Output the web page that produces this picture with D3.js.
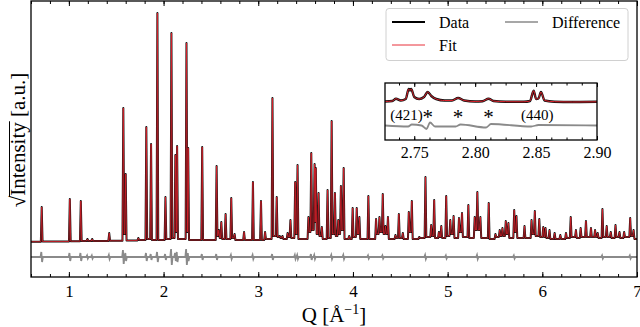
<!DOCTYPE html>
<html>
<head>
<meta charset="utf-8">
<script src="https://cdn.jsdelivr.net/npm/d3@7"></script>
<style>
  body { margin: 0; background: #fff; }
  text { font-family: "Liberation Serif", "DejaVu Serif", serif; }
</style>
</head>
<body>
<div id="chart"></div>
<script>
// Peak positions (Q, 1/A) and heights (sqrt intensity, arb. units)
const peakQ = [
  0.713, 1.010, 1.126, 1.196, 1.246, 1.426, 1.575, 1.600, 1.733, 1.818,
  1.868, 1.935, 2.020, 2.083, 2.125, 2.143, 2.242, 2.260, 2.408, 2.560,
  2.584, 2.610, 2.655, 2.715, 2.750, 2.850, 2.944, 3.029, 3.072, 3.150,
  3.195, 3.227, 3.256, 3.310, 3.340, 3.390, 3.415, 3.530, 3.560, 3.595,
  3.608, 3.637, 3.672, 3.732, 3.775, 3.810, 3.845, 3.873, 3.902, 3.960,
  3.997, 4.040, 4.068, 4.163, 4.244, 4.280, 4.315, 4.343, 4.370, 4.449,
  4.485, 4.527, 4.590, 4.622, 4.700, 4.766, 4.826, 4.858, 4.908, 4.933,
  4.985, 5.028, 5.063, 5.120, 5.152, 5.219, 5.286, 5.314, 5.346, 5.434,
  5.505, 5.550, 5.579, 5.614, 5.642, 5.703, 5.727, 5.812, 5.886, 5.921,
  5.968, 6.010, 6.034, 6.076, 6.130, 6.190, 6.250, 6.300, 6.355, 6.405,
  6.461, 6.514, 6.557, 6.585, 6.635, 6.680, 6.723, 6.773, 6.815, 6.864,
  6.928, 6.964
];
const peakI = [
  35, 43, 41, 3, 3, 9, 134, 68, 4, 115,
  98, 229, 45, 209, 87, 96, 199, 94, 95, 76,
  12, 20, 28, 44, 8, 10, 60, 41, 10, 144,
  45, 6, 6, 9, 22, 60, 77, 25, 89, 78,
  74, 49, 15, 52, 121, 49, 22, 56, 74, 6,
  34, 34, 25, 46, 23, 25, 48, 16, 25, 7,
  28, 9, 30, 41, 5, 65, 17, 42, 10, 16,
  46, 22, 26, 24, 29, 37, 25, 50, 25, 39,
  8, 12, 14, 21, 19, 32, 26, 16, 22, 31,
  23, 15, 14, 12, 9, 7, 9, 25, 12, 14,
  21, 14, 12, 9, 33, 16, 10, 17, 10, 10,
  24, 12
];
// level of the curve between consecutive peaks (first = start of pattern)
const valleyI = [0.3,
  0.5, 0.8, 1, 1, 1, 1.2, 8, 1.5, 2, 3,
  2, 2, 3, 4, 10, 3, 10, 2, 2, 6,
  4, 3, 3, 4, 2, 2, 2, 2, 3, 6,
  5, 4, 3, 5, 4, 8, 3, 10, 12, 20,
  8, 6, 3, 4, 8, 6, 8, 12, 3, 3,
  5, 8, 3, 3, 8, 10, 8, 8, 3, 4,
  4, 3, 10, 3, 4, 5, 6, 4, 5, 4,
  6, 8, 4, 10, 5, 4, 12, 12, 4, 3,
  5, 6, 6, 8, 4, 10, 4, 4, 8, 6,
  5, 5, 4, 3, 3, 3, 4, 5, 4, 5,
  5, 5, 5, 4, 5, 5, 4, 5, 4, 5,
  6, 3
];
// residual (obs - calc) swings at the strongest reflections
const diffQ = [0.713, 1.010, 1.126, 1.196, 1.246, 1.426, 1.575, 1.600, 1.818, 1.868,
  1.935, 2.020, 2.083, 2.125, 2.143, 2.242, 2.260, 2.408, 2.560, 2.715,
  2.944, 3.150, 3.390, 3.415, 3.560, 3.595, 3.775, 3.902, 4.163, 4.315,
  4.766, 4.985, 5.314, 5.703, 6.635, 6.928];
const diffA = [5, 4, 4, 1.5, 1.5, 2, 7, 4, 4, 3,
  5, 3, 8, 4, 5, 8, 4, 3, 3, 2,
  2, 3, 2, 2, 3, 2, 2, 2, 1.5, 1.5,
  2, 1.5, 2, 1.5, 1.5, 1.5];
const diffOffset = -15;

// inset: 2.726 - 2.90 1/A profile points
const insetQ = [2.726, 2.732, 2.735, 2.739, 2.743, 2.7455, 2.7465, 2.7475, 2.750, 2.754,
  2.758, 2.761, 2.764, 2.768, 2.775, 2.781, 2.786, 2.791, 2.800, 2.806,
  2.811, 2.815, 2.825, 2.840, 2.845, 2.848, 2.850, 2.852, 2.854, 2.857,
  2.865, 2.880, 2.900];
const insetI = [0.5, 1, 3.3, 1.5, 3, 13, 11.5, 13, 5, 3,
  5, 10, 6, 3, 1.5, 1.5, 4, 1.5, 0.5, 0.8,
  3.3, 1, 0.3, 0.2, 1, 11.3, 3, 3.5, 10, 1.5,
  0.3, 0, 0.2];
const insetDiffQ = [2.726, 2.745, 2.748, 2.756, 2.760, 2.763, 2.767, 2.784, 2.788, 2.809, 2.813, 2.846, 2.852, 2.900];
const insetDiffI = [0, -1, 1, 0, -3.5, 3, -1, -1, 1, -2, 1.5, -1, 0.5, 0];
const insetDiffOffset = -23.5;
const starQ = [2.761, 2.786, 2.811];

const xTicks = [1, 2, 3, 4, 5, 6, 7];
const insetTicks = [2.75, 2.80, 2.85, 2.90];

const W = 640, H = 327;
const plot = {left: 31, right: 637, top: 1, bottom: 277};
const ins = {left: 385, right: 597, top: 83, bottom: 140};

const svg = d3.select("#chart").append("svg")
  .attr("width", W).attr("height", H);

const x = d3.scaleLinear().domain([0.6, 7.0]).range([plot.left, plot.right]);
const y = d3.scaleLinear().domain([-35, 241]).range([plot.bottom, plot.top]);

// build profile vertices: foot, top, foot for every reflection
const w = 0.009;
function profile() {
  const pts = [[0.6, valleyI[0]]];
  peakQ.forEach((q, k) => {
    pts.push([q - w, valleyI[k]], [q, peakI[k]], [q + w, valleyI[k + 1]]);
  });
  pts.push([7.0, valleyI[peakQ.length]]);
  return pts;
}
function diffPts() {
  const pts = [[0.6, 0]];
  diffQ.forEach((q, k) => {
    pts.push([q - 0.012, 0], [q - 0.004, diffA[k]], [q + 0.004, -diffA[k]], [q + 0.012, 0]);
  });
  pts.push([7.0, 0]);
  return pts;
}

svg.append("defs").append("clipPath").attr("id", "clipMain")
  .append("rect").attr("x", plot.left).attr("y", plot.top)
  .attr("width", plot.right - plot.left).attr("height", plot.bottom - plot.top);

const line = d3.line().x(d => x(d[0])).y(d => y(d[1]));
const lineDiff = d3.line().x(d => x(d[0])).y(d => y(d[1] + diffOffset));

const main = svg.append("g").attr("clip-path", "url(#clipMain)");
const prof = profile();
main.append("path").attr("d", lineDiff(diffPts()))
  .attr("fill", "none").attr("stroke", "#8a8a8a").attr("stroke-width", 1.8);
main.append("path").attr("d", line(prof))
  .attr("fill", "none").attr("stroke", "#111").attr("stroke-width", 2)
  .attr("stroke-linejoin", "round");
main.append("path").attr("d", line(prof))
  .attr("fill", "none").attr("stroke", "#e0202a").attr("stroke-width", 0.8)
  .attr("stroke-linejoin", "round");

// axes: inward ticks on bottom and top
const bottomAxis = svg.append("g").attr("transform", `translate(0,${plot.bottom})`)
  .call(d3.axisBottom(x).tickValues(xTicks).tickSize(-5).tickPadding(8).tickFormat(d3.format("d")));
bottomAxis.selectAll("text").attr("font-size", 17).attr("fill", "#000")
  .style("font-family", '"Liberation Serif", serif');
svg.append("g").attr("transform", `translate(0,${plot.bottom})`)
  .call(d3.axisBottom(x).tickValues(d3.range(0.6, 7.01, 0.2)).tickSize(-3).tickFormat(""));
svg.append("g").attr("transform", `translate(0,${plot.top})`)
  .call(d3.axisTop(x).tickValues(xTicks).tickSize(-5).tickFormat(""));
svg.append("g").attr("transform", `translate(0,${plot.top})`)
  .call(d3.axisTop(x).tickValues(d3.range(0.6, 7.01, 0.2)).tickSize(-3).tickFormat(""));
svg.selectAll(".domain").remove();
svg.selectAll(".tick line").attr("stroke", "#000").attr("stroke-width", 1);

svg.append("rect").attr("x", plot.left).attr("y", plot.top)
  .attr("width", plot.right - plot.left).attr("height", plot.bottom - plot.top)
  .attr("fill", "none").attr("stroke", "#000").attr("stroke-width", 1.3);

// axis labels
const xl = svg.append("text").attr("x", (plot.left + plot.right) / 2).attr("y", 322)
  .attr("text-anchor", "middle").attr("font-size", 21);
xl.append("tspan").text("Q [Å");
xl.append("tspan").text("−1").attr("font-size", 14).attr("dy", -8);
xl.append("tspan").text("]").attr("dy", 8);

const yg = svg.append("g").attr("transform", "translate(25,140) rotate(-90)");
const yl = yg.append("text").attr("x", 0).attr("y", 0).attr("text-anchor", "middle")
  .attr("font-size", 21);
yl.append("tspan").text("√");
yl.append("tspan").text("Intensity");
yl.append("tspan").text(" [a.u.]");
const node = yl.node();
const s1 = node.getEndPositionOfChar(9).x;
const r0 = node.getEndPositionOfChar(0).x;
yg.append("line").attr("x1", r0 - 1).attr("x2", s1 + 1).attr("y1", -15.5).attr("y2", -15.5)
  .attr("stroke", "#000").attr("stroke-width", 1);

// inset
const xi = d3.scaleLinear().domain([2.726, 2.90]).range([ins.left, ins.right]);
const yi = d3.scaleLinear().domain([-38, 19]).range([ins.bottom, ins.top]);
svg.append("clipPath").attr("id", "clipInset")
  .append("rect").attr("x", ins.left).attr("y", ins.top)
  .attr("width", ins.right - ins.left).attr("height", ins.bottom - ins.top);
svg.append("rect").attr("x", ins.left).attr("y", ins.top)
  .attr("width", ins.right - ins.left).attr("height", ins.bottom - ins.top).attr("fill", "#fff");
const ig = svg.append("g").attr("clip-path", "url(#clipInset)");
const iPts = insetQ.map((q, k) => [q, insetI[k]]);
const iDiff = insetDiffQ.map((q, k) => [q, insetDiffI[k] + insetDiffOffset]);
const iline = d3.line().x(d => xi(d[0])).y(d => yi(d[1])).curve(d3.curveMonotoneX);
ig.append("path").attr("d", iline(iDiff)).attr("fill", "none")
  .attr("stroke", "#8a8a8a").attr("stroke-width", 1.8);
ig.append("path").attr("d", iline(iPts)).attr("fill", "none")
  .attr("stroke", "#111").attr("stroke-width", 2.4);
ig.append("path").attr("d", iline(iPts)).attr("fill", "none")
  .attr("stroke", "#e0202a").attr("stroke-width", 1);

const iax = svg.append("g").attr("transform", `translate(0,${ins.bottom})`)
  .call(d3.axisBottom(xi).tickValues(insetTicks).tickSize(-4).tickPadding(7).tickFormat(d3.format(".2f")));
iax.selectAll("text").attr("font-size", 16).attr("fill", "#000")
  .style("font-family", '"Liberation Serif", serif');
svg.append("g").attr("transform", `translate(0,${ins.bottom})`)
  .call(d3.axisBottom(xi).tickValues(d3.range(2.7375, 2.9, 0.0125)).tickSize(-2.5).tickFormat(""));
svg.append("g").attr("transform", `translate(0,${ins.top})`)
  .call(d3.axisTop(xi).tickValues(insetTicks).tickSize(-4).tickFormat(""));
svg.append("g").attr("transform", `translate(0,${ins.top})`)
  .call(d3.axisTop(xi).tickValues(d3.range(2.7375, 2.9, 0.0125)).tickSize(-2.5).tickFormat(""));
svg.selectAll(".domain").remove();
svg.selectAll(".tick line").attr("stroke", "#000").attr("stroke-width", 1);
svg.append("rect").attr("x", ins.left).attr("y", ins.top)
  .attr("width", ins.right - ins.left).attr("height", ins.bottom - ins.top)
  .attr("fill", "none").attr("stroke", "#000").attr("stroke-width", 1.3);

svg.append("text").attr("x", xi(starQ[0]) - 5).attr("y", 120).attr("text-anchor", "end")
  .attr("font-size", 15).text("(421)");
starQ.forEach(q => {
  svg.append("text").attr("x", xi(q)).attr("y", 124).attr("text-anchor", "middle")
    .attr("font-size", 21).text("*");
});
svg.append("text").attr("x", xi(2.851)).attr("y", 120).attr("text-anchor", "middle")
  .attr("font-size", 15).text("(440)");

// legend
const lg = svg.append("g");
lg.append("rect").attr("x", 386).attr("y", 8.5).attr("width", 242).attr("height", 52)
  .attr("rx", 3).attr("fill", "#fff").attr("stroke", "#d0d0d0").attr("stroke-width", 1);
const items = [
  {label: "Data", color: "#000", sw: 2.2, lx: 392, ly: 22},
  {label: "Fit", color: "#e8303a", sw: 1, lx: 392, ly: 45},
  {label: "Difference", color: "#8a8a8a", sw: 1.5, lx: 505, ly: 22}
];
items.forEach(it => {
  lg.append("line").attr("x1", it.lx).attr("x2", it.lx + 33).attr("y1", it.ly).attr("y2", it.ly)
    .attr("stroke", it.color).attr("stroke-width", it.sw);
  lg.append("text").attr("x", it.lx + 47).attr("y", it.ly + 5.5).attr("font-size", 16).text(it.label);
});
</script>
</body>
</html>
